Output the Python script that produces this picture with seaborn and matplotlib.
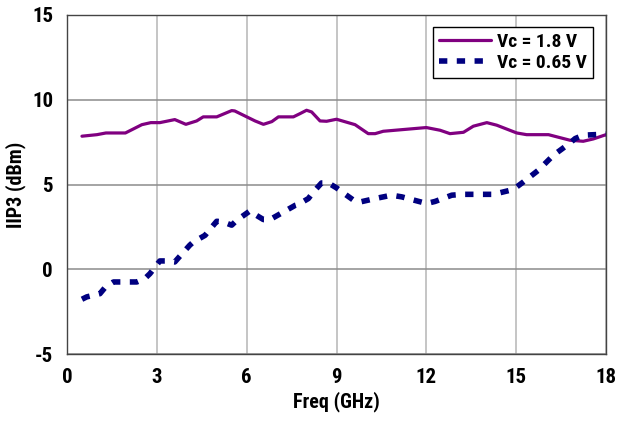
import matplotlib
matplotlib.use("Agg")
import matplotlib.pyplot as plt
from matplotlib import font_manager
import seaborn as sns
import pandas as pd

# ---- data ----
freq_18 = [0.5, 1.0, 1.3, 1.95, 2.5, 2.8, 3.1, 3.6, 3.97, 4.33, 4.55, 5.0, 5.5, 5.6,
           6.28, 6.56, 6.84, 7.06, 7.56, 7.78, 8.0, 8.17, 8.45, 8.67, 9.0, 9.62,
           10.06, 10.29, 10.56, 12.0, 12.46, 12.79, 13.24, 13.57, 14.02, 14.35,
           15.02, 15.35, 16.08, 16.8, 17.24, 17.58, 18.0]
iip3_18 = [7.85, 7.94, 8.04, 8.04, 8.53, 8.65, 8.65, 8.83, 8.55, 8.75, 8.99, 8.99, 9.36, 9.34,
           8.75, 8.55, 8.71, 8.99, 8.99, 9.18, 9.38, 9.28, 8.75, 8.73, 8.85, 8.53,
           8.0, 8.0, 8.14, 8.36, 8.2, 8.0, 8.08, 8.44, 8.65, 8.5,
           8.04, 7.94, 7.94, 7.61, 7.55, 7.69, 7.94]

freq_065 = [0.5, 0.66, 1.1, 1.27, 1.55, 2.33, 2.6, 2.77, 3.1, 3.33, 3.6, 3.77, 4.1, 4.22,
            4.61, 4.72, 5.0, 5.22, 5.5, 5.67, 6.11, 6.28, 6.56, 6.78, 7.17, 7.62, 7.73,
            8.06, 8.23, 8.5, 8.73, 9.0, 9.23, 9.62, 9.79, 10.29, 10.84, 11.18, 11.73,
            12.01, 12.29, 12.85, 13.24, 14.24, 14.8, 15.02, 15.24, 15.74, 16.24, 16.8,
            16.97, 17.24, 18.0]
iip3_065 = [-1.77, -1.63, -1.44, -1.08, -0.75, -0.75, -0.55, -0.26, 0.49, 0.49, 0.43, 0.77, 1.42, 1.61,
            2.0, 2.24, 2.83, 2.79, 2.6, 2.89, 3.44, 3.23, 2.93, 2.93, 3.32, 3.77, 3.83,
            4.17, 4.56, 5.09, 5.09, 4.8, 4.5, 4.01, 3.97, 4.17, 4.37, 4.27, 4.01,
            3.88, 4.0, 4.37, 4.42, 4.42, 4.66, 4.86, 5.15, 5.84, 6.72, 7.45,
            7.71, 7.91, 7.97]

label_18 = "Vc = 1.8 V"
label_065 = "Vc = 0.65 V"
x_ticks = [0, 3, 6, 9, 12, 15, 18]
y_ticks = [-5, 0, 5, 10, 15]
x_label = "Freq (GHz)"
y_label = "IIP3 (dBm)"

# ---- font selection ----
names = {f.name for f in font_manager.fontManager.ttflist}
cands = ["Liberation Sans Narrow", "DejaVu Sans Condensed", "Roboto Condensed",
         "Open Sans Condensed", "Liberation Sans", "DejaVu Sans"]
fam = next((c for c in cands if c in names), "DejaVu Sans")

sns.set_theme(style="white")
plt.rcParams["font.family"] = [fam, "DejaVu Sans"]

df18 = pd.DataFrame({"f": freq_18, "v": iip3_18})
df065 = pd.DataFrame({"f": freq_065, "v": iip3_065})

fig = plt.figure(figsize=(6.21, 4.23), dpi=100)
ax = fig.add_axes([67 / 621, 1 - 354 / 423, 539 / 621, 339 / 423])

sns.lineplot(data=df18, x="f", y="v", ax=ax, color="#800080", lw=2.3,
             label=label_18, sort=False, estimator=None)
sns.lineplot(data=df065, x="f", y="v", ax=ax, color="#000080", lw=4.0,
             label=label_065, sort=False, estimator=None)
ax.lines[1].set_dashes((1.5, 1.7))
ax.lines[1].set_dash_capstyle("butt")

ax.set_xlim(0, 18)
ax.set_ylim(-5, 15)
ax.set_xticks(x_ticks)
ax.set_yticks(y_ticks)
ax.set_xticklabels([str(t) for t in x_ticks])
ax.set_yticklabels([str(t) for t in y_ticks])

ax.xaxis.grid(True, color="#c0c0c0", lw=1.3)
ax.yaxis.grid(True, color="#8c8c8c", lw=1.1)
ax.set_axisbelow(True)
for s in ax.spines.values():
    s.set_visible(True)
    s.set_color("#444444")
    s.set_linewidth(1.0)

ax.tick_params(axis="both", direction="out", length=6, width=1, color="#444444",
               labelsize=15, pad=4)
for t in ax.get_xticklabels() + ax.get_yticklabels():
    t.set_fontweight("bold")
    t.set_color("black")

ax.set_xlabel(x_label, fontsize=14.5, fontweight="bold", color="black", labelpad=3)
ax.set_ylabel(y_label, fontsize=14.5, fontweight="bold", color="black", labelpad=4)

leg = ax.legend(loc="upper right", frameon=True, fancybox=False,
                framealpha=1, edgecolor="black", fontsize=14, handlelength=2.7,
                borderpad=0.3, labelspacing=0.15, handletextpad=0.3, borderaxespad=0)
leg.set_bbox_to_anchor((593 / 621, 1 - 27 / 423), transform=fig.transFigure)
leg.get_frame().set_linewidth(1.0)
for t in leg.get_texts():
    t.set_fontweight("bold")
    t.set_color("black")

fig.savefig("out.png", dpi=100)
